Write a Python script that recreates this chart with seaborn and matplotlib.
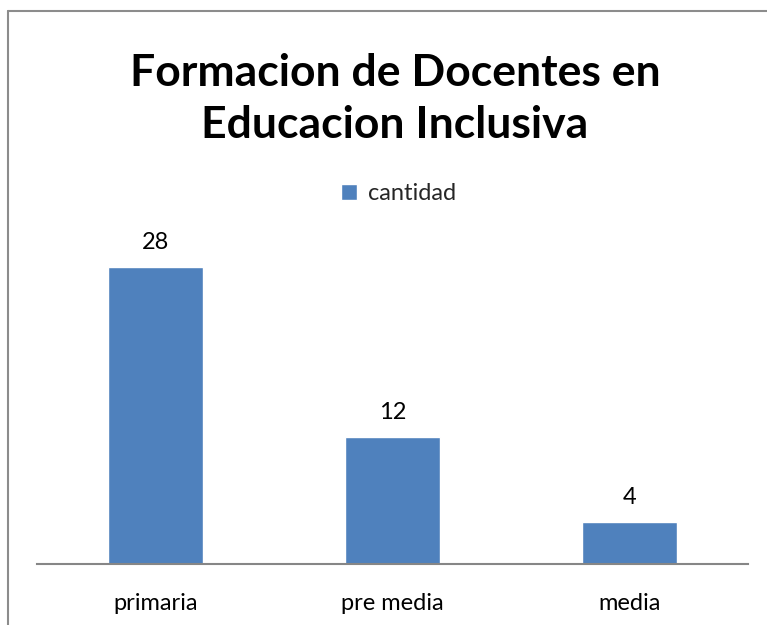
import matplotlib
matplotlib.use('Agg')
import matplotlib.pyplot as plt
import seaborn as sns
from matplotlib.lines import Line2D

# datos del grafico
categorias = ['primaria', 'pre media', 'media']
cantidad = [28, 12, 4]
serie = 'cantidad'
titulo = 'Formacion de Docentes en\nEducacion Inclusiva'

sns.set_style('white')
plt.rcParams['font.family'] = ['Lato', 'Open Sans', 'DejaVu Sans']

fig = plt.figure(figsize=(7.67, 6.25), dpi=100)
ax = fig.add_axes([37 / 767, 1 - 564 / 625, 711 / 767, 334 / 625])

sns.barplot(x=categorias, y=cantidad, color='#4F81BD', width=0.405,
            label=serie, ax=ax, saturation=1)
ax.set_ylim(0, 31.5)
ax.set_xlim(-0.5, 2.5)

# etiquetas de datos
ax.bar_label(ax.containers[0], padding=10, fontsize=17, color='black')

# ejes
for lado in ['top', 'right', 'left']:
    ax.spines[lado].set_visible(False)
ax.spines['bottom'].set_color('#868686')
ax.spines['bottom'].set_linewidth(1.5)
ax.set_yticks([])
ax.tick_params(axis='x', length=0, pad=21, labelsize=17, labelcolor='black')

# titulo
fig.text(0.515, 1 - 99 / 625, titulo, ha='center', va='center',
         fontsize=32, fontweight='bold', linespacing=1.35, color='black')

# leyenda
ax.legend(loc='center', bbox_to_anchor=(0.52, 1 - 194 / 625),
          bbox_transform=fig.transFigure, frameon=False, fontsize=17,
          handlelength=0.65, handleheight=0.65, handletextpad=0.5)

# borde del grafico
fig.add_artist(Line2D([8 / 767, 1], [1 - 11 / 625, 1 - 11 / 625],
                      transform=fig.transFigure, color='#8c8c8c', lw=1.5))
fig.add_artist(Line2D([8 / 767, 8 / 767], [1 - 11 / 625, 0],
                      transform=fig.transFigure, color='#8c8c8c', lw=1.5))

plt.savefig('out.png', dpi=100)
plt.close()
